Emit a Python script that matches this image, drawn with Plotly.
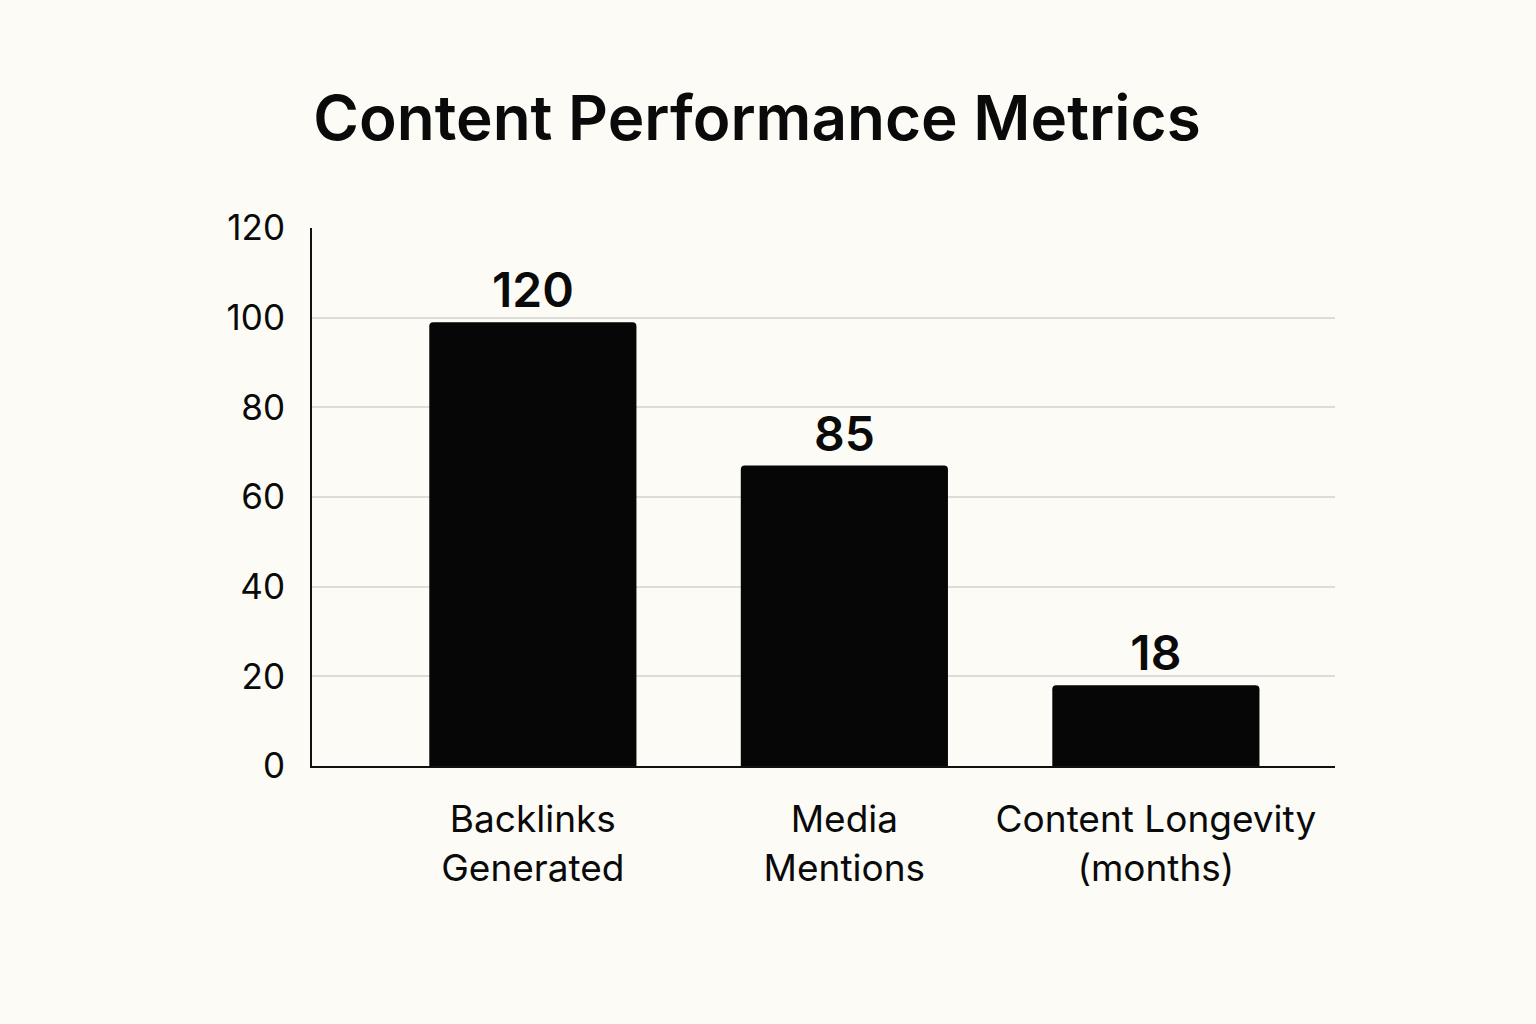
import plotly.graph_objects as go

categories = ["Backlinks<br>Generated", "Media<br>Mentions", "Content Longevity<br>(months)"]
bar_values = [99, 67, 18]
bar_labels = ["120", "85", "18"]
y_ticks = [0, 20, 40, 60, 80, 100, 120]

x_pos = list(range(len(categories)))

fig = go.Figure()
fig.add_trace(go.Bar(
    x=x_pos,
    y=bar_values,
    width=0.665,
    marker=dict(color="#060606", line=dict(width=0), cornerradius=4),
    text=bar_labels,
    textposition="outside",
    textfont=dict(family="Inter", size=48, color="#0a0a0a", weight=600),
    cliponaxis=False,
    hoverinfo="skip",
))

fig.update_layout(
    width=1536, height=1024,
    paper_bgcolor="#fcfbf6", plot_bgcolor="#fcfbf6",
    margin=dict(l=312, r=201, t=228, b=258),
    showlegend=False,
    title=dict(text="Content Performance Metrics", x=0.204, xanchor="left", y=0.884, yanchor="middle",
               font=dict(family="Inter", size=62, color="#0a0a0a", weight=600)),
    font=dict(family="Inter", color="#0a0a0a"),
)
fig.update_xaxes(
    range=[-0.709, 2.575],
    tickvals=x_pos, ticktext=categories,
    tickfont=dict(size=37, color="#0a0a0a"),
    showline=True, linecolor="#111111", linewidth=2,
    showgrid=False, zeroline=False, ticks="",
    ticklabelstandoff=20,
)
fig.update_yaxes(
    range=[0, 120],
    tickvals=y_ticks,
    tickfont=dict(size=35, color="#0a0a0a"),
    showline=True, linecolor="#111111", linewidth=2,
    showgrid=True, gridcolor="#dcdcd8", gridwidth=1.5,
    zeroline=False, ticks="",
    ticklabelstandoff=18,
)

fig.write_html("out.html")
